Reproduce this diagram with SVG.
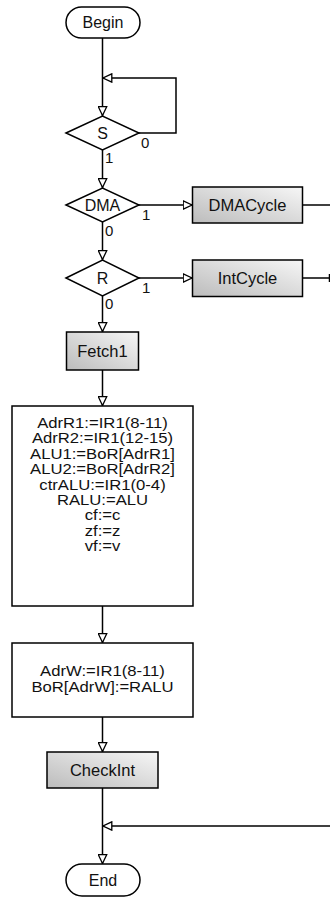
<svg xmlns="http://www.w3.org/2000/svg" width="330" height="897" viewBox="0 0 330 897">
<style>
.shape{fill:#fff;stroke:#000;stroke-width:1.5}
.proc{fill:url(#g);stroke:#000;stroke-width:1.5}
.ln{fill:none;stroke:#000;stroke-width:1.5}
.ah{fill:#fff;stroke:#000;stroke-width:1.3;stroke-linejoin:miter}
text{font-family:"Liberation Sans",Arial,sans-serif;font-size:16px;fill:#111}
.c{text-anchor:middle}
.t{font-size:16.5px}
.s{font-size:14.5px}
.lbl{font-size:15px}
</style>
<defs>
<linearGradient id="g" x1="0" y1="1" x2="1" y2="0">
<stop offset="0" stop-color="#bcbcbc"/>
<stop offset="1" stop-color="#f6f6f6"/>
</linearGradient>
<marker id="a" viewBox="0 0 10 10" refX="10" refY="5" markerWidth="10" markerHeight="10" markerUnits="userSpaceOnUse" orient="auto">
<path d="M0.7,0.8 L9.5,5 L0.7,9.2 Z" class="ah"/>
</marker>
</defs>
<g id="connectors">
<path class="ln" d="M102.5,38 V116" marker-end="url(#a)"/>
<path class="ln" d="M139,133 H176 V78 H102.5" marker-end="url(#a)"/>
<path class="ln" d="M102.5,150 V188" marker-end="url(#a)"/>
<path class="ln" d="M139,205 H192.5" marker-end="url(#a)"/>
<path class="ln" d="M302.5,205 H330"/>
<path class="ln" d="M102.5,222 V260" marker-end="url(#a)"/>
<path class="ln" d="M139,278 H192.5" marker-end="url(#a)"/>
<path class="ln" d="M302.5,278 H329"/>
<path class="ln" d="M329.5,274 V282"/>
<path class="ln" d="M102.5,296 V332" marker-end="url(#a)"/>
<path class="ln" d="M102.5,370 V406" marker-end="url(#a)"/>
<path class="ln" d="M102.5,606 V643" marker-end="url(#a)"/>
<path class="ln" d="M102.5,717 V752" marker-end="url(#a)"/>
<path class="ln" d="M102.5,788 V864" marker-end="url(#a)"/>
<path class="ln" d="M330,826 H102.5" marker-end="url(#a)"/>
<text class="lbl" x="141" y="148">0</text>
<text class="lbl" x="105" y="163">1</text>
<text class="lbl" x="142" y="220">1</text>
<text class="lbl" x="105" y="236">0</text>
<text class="lbl" x="142" y="293">1</text>
<text class="lbl" x="105" y="309">0</text>
</g>
<g id="begin">
<rect class="shape" x="66" y="7" width="74" height="31" rx="15.5"/>
<text class="c" x="103" y="28">Begin</text>
</g>
<g id="s">
<path class="shape" d="M66,133 L102.5,116 L139,133 L102.5,150 Z"/>
<text class="c" x="102.5" y="139">S</text>
</g>
<g id="dma">
<path class="shape" d="M66,205 L102.5,188 L139,205 L102.5,222 Z"/>
<text class="c" x="102.5" y="211">DMA</text>
</g>
<g id="dmacycle">
<rect class="proc" x="192.5" y="187" width="110" height="36"/>
<text class="c t" x="247.5" y="211">DMACycle</text>
</g>
<g id="r">
<path class="shape" d="M66,278 L102.5,260 L139,278 L102.5,296 Z"/>
<text class="c" x="102.5" y="284">R</text>
</g>
<g id="intcycle">
<rect class="proc" x="192.5" y="260" width="110" height="36.5"/>
<text class="c t" x="247.5" y="284">IntCycle</text>
</g>
<g id="fetch1">
<rect class="proc" x="66.5" y="332" width="72" height="38"/>
<text class="c t" x="102.5" y="357">Fetch1</text>
</g>
<g id="alu">
<rect class="shape" x="12" y="406" width="181" height="200"/>
<g transform="translate(102.5 0) scale(1.15 1)">
<text class="c s" x="0" y="428">AdrR1:=IR1(8-11)</text>
<text class="c s" x="0" y="443.4">AdrR2:=IR1(12-15)</text>
<text class="c s" x="0" y="458.8">ALU1:=BoR[AdrR1]</text>
<text class="c s" x="0" y="474.2">ALU2:=BoR[AdrR2]</text>
<text class="c s" x="0" y="489.6">ctrALU:=IR1(0-4)</text>
<text class="c s" x="0" y="505">RALU:=ALU</text>
<text class="c s" x="0" y="520.4">cf:=c</text>
<text class="c s" x="0" y="535.8">zf:=z</text>
<text class="c s" x="0" y="551.2">vf:=v</text>
</g>
</g>
<g id="write">
<rect class="shape" x="12" y="643" width="181" height="74"/>
<g transform="translate(102.5 0) scale(1.15 1)">
<text class="c s" x="0" y="676">AdrW:=IR1(8-11)</text>
<text class="c s" x="0" y="692">BoR[AdrW]:=RALU</text>
</g>
</g>
<g id="checkint">
<rect class="proc" x="47" y="752" width="111" height="36"/>
<text class="c t" x="102.5" y="776">CheckInt</text>
</g>
<g id="end">
<rect class="shape" x="66" y="864" width="74" height="32" rx="16"/>
<text class="c" x="103" y="886">End</text>
</g>
</svg>
